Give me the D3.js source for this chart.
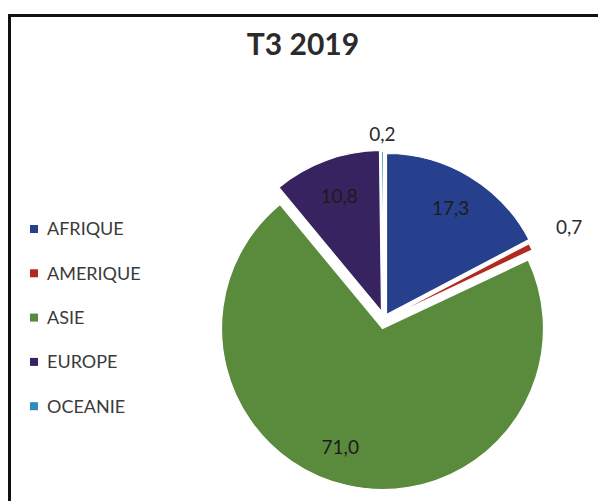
<!DOCTYPE html>
<html>
<head>
<meta charset="utf-8">
<script src="https://cdn.jsdelivr.net/npm/d3@7"></script>
<style>
  body { margin: 0; background: #fff; }
  svg { display: block; font-family: Lato, "Open Sans", sans-serif; }
</style>
</head>
<body>
<div id="chart"></div>
<script>
// T3 2019 - share by continent (%)
const categories = ["AFRIQUE", "AMERIQUE", "ASIE", "EUROPE", "OCEANIE"];
const values = [17.3, 0.7, 71.0, 10.8, 0.2];
const title = "T3 2019";

const colors = {
    AFRIQUE: "#27408e",
    AMERIQUE: "#b02a22",
    ASIE: "#5a8a3c",
    EUROPE: "#37235f",
    OCEANIE: "#2e8bbd"
};

// exploded slices, shift of the slice tip in px
const explode = {
    AFRIQUE: [4, -14],
    AMERIQUE: [4, -10],
    ASIE: [0, 0],
    EUROPE: [-1, -17],
    OCEANIE: [1, -16]
};

// label placement: distance from slice tip, inside or outside
const labelPos = {
    AFRIQUE: {r: 124, angle: 0, inside: true},
    AMERIQUE: {r: 204, angle: 0, inside: false},
    ASIE: {r: 126, angle: 7, inside: true},
    EUROPE: {r: 123, angle: 0, inside: true},
    OCEANIE: {r: 178, angle: 0, inside: false}
};

const width = 598, height = 501;
const cx = 382.5, cy = 328.5, radius = 161;

const fr = d3.formatLocale({decimal: ",", thousands: " ", grouping: [3], currency: ["", " €"]});
const fmt = fr.format(".1f");

const data = categories.map((c, i) => ({name: c, value: values[i]}));

const svg = d3.select("#chart").append("svg")
    .attr("width", width)
    .attr("height", height);

// frame of the original picture (cut off on right and bottom)
svg.append("rect")
    .attr("x", 9.5)
    .attr("y", 15.5)
    .attr("width", 700)
    .attr("height", 700)
    .attr("fill", "none")
    .attr("stroke", "#111")
    .attr("stroke-width", 3);

svg.append("text")
    .attr("x", 303)
    .attr("y", 55)
    .attr("text-anchor", "middle")
    .attr("font-size", 30)
    .attr("font-weight", "bold")
    .attr("fill", "#2b2b2b")
    .text(title);

const pie = d3.pie().sort(null).value(d => d.value);
const arcs = pie(data);

const arc = d3.arc().innerRadius(0).outerRadius(radius);

const pieG = svg.append("g")
    .attr("transform", `translate(${cx},${cy})`);

pieG.selectAll(".slice")
    .data(arcs)
    .join("path")
    .attr("class", "slice")
    .attr("transform", d => `translate(${explode[d.data.name][0]},${explode[d.data.name][1]})`)
    .attr("d", arc)
    .attr("fill", d => colors[d.data.name])
    .attr("stroke", "#fff")
    .attr("stroke-width", 1.2);

pieG.selectAll(".label")
    .data(arcs)
    .join("text")
    .attr("class", "label")
    .attr("transform", d => {
        const lp = labelPos[d.data.name];
        const a = (d.startAngle + d.endAngle) / 2 + lp.angle * Math.PI / 180;
        const x = explode[d.data.name][0] + Math.sin(a) * lp.r;
        const y = explode[d.data.name][1] - Math.cos(a) * lp.r;
        return `translate(${x},${y})`;
    })
    .attr("text-anchor", "middle")
    .attr("dy", "0.35em")
    .attr("font-size", 19)
    .attr("fill", d => labelPos[d.data.name].inside ? "#1c1c1c" : "#2b2b2b")
    .text(d => fmt(d.data.value));

// legend
const legend = svg.append("g")
    .attr("transform", "translate(30,229)");

const row = legend.selectAll(".row")
    .data(categories)
    .join("g")
    .attr("class", "row")
    .attr("transform", (d, i) => `translate(0,${i * 44.3})`);

row.append("rect")
    .attr("x", 0)
    .attr("y", -4)
    .attr("width", 8)
    .attr("height", 8)
    .attr("fill", d => colors[d]);

row.append("text")
    .attr("x", 17)
    .attr("dy", "0.35em")
    .attr("font-size", 18)
    .attr("fill", "#3a3a3a")
    .text(d => d);
</script>
</body>
</html>
